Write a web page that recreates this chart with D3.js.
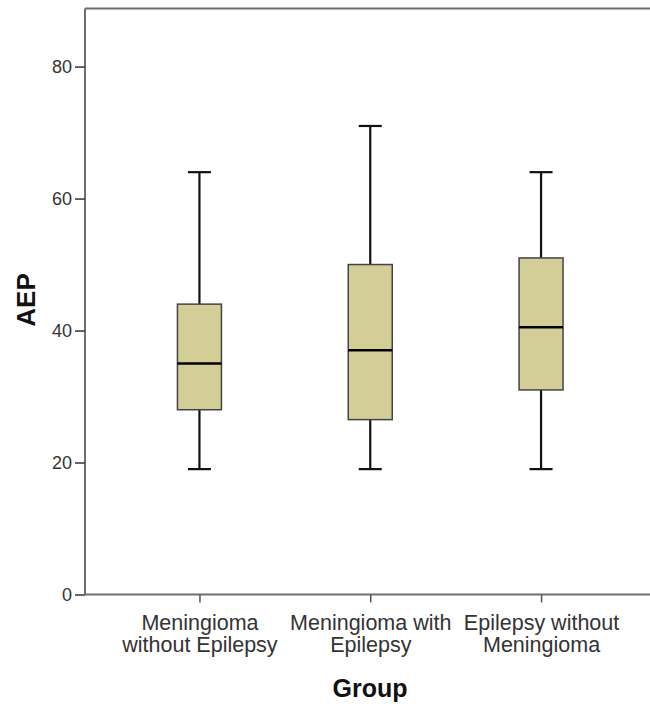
<!DOCTYPE html>
<html>
<head>
<meta charset="utf-8">
<script src="https://cdn.jsdelivr.net/npm/d3@7"></script>
<style>
  body { margin: 0; background: #fff; }
  text { font-family: "Liberation Sans", Arial, sans-serif; }
</style>
</head>
<body>
<div id="chart"></div>
<script>
  // Box plot values
  var groups = [
    ["Meningioma", "without Epilepsy"],
    ["Meningioma with", "Epilepsy"],
    ["Epilepsy without", "Meningioma"]
  ];
  var whiskerLow = [19, 19, 19];
  var q1 = [28, 26.5, 31];
  var median = [35, 37, 40.5];
  var q3 = [44, 50, 51];
  var whiskerHigh = [64, 71, 64];
  var yTicks = [0, 20, 40, 60, 80];

  var width = 650, height = 704;
  var margin = { top: 8.5, left: 85, bottom: 594.5 };

  var boxes = groups.map((g, i) => ({
    key: i,
    label: g,
    lo: whiskerLow[i],
    q1: q1[i],
    med: median[i],
    q3: q3[i],
    hi: whiskerHigh[i]
  }));

  var svg = d3.select("#chart").append("svg")
    .attr("width", width)
    .attr("height", height);

  var x = d3.scalePoint()
    .domain(boxes.map(d => d.key))
    .range([margin.left, 655.5])
    .padding(0.67);

  var y = d3.scaleLinear()
    .domain([0, 88.8])
    .range([margin.bottom, margin.top]);

  var boxW = 44, capW = 23;

  // frame: top line
  svg.append("line")
    .attr("x1", margin.left).attr("x2", width)
    .attr("y1", margin.top).attr("y2", margin.top)
    .attr("stroke", "#6e6e6e")
    .attr("stroke-width", 2);

  // y axis
  var yAxis = d3.axisLeft(y)
    .tickValues(yTicks)
    .tickSize(10)
    .tickPadding(3);

  var yg = svg.append("g")
    .attr("transform", "translate(" + margin.left + ",0)")
    .call(yAxis);
  yg.select(".domain").attr("stroke", "#6e6e6e").attr("stroke-width", 2)
    .attr("d", "M0," + margin.top + "V" + margin.bottom);
  yg.selectAll(".tick line").attr("stroke", "#333").attr("stroke-width", 1.5);
  yg.selectAll(".tick text")
    .attr("font-size", "18px")
    .attr("fill", "#333")
    .attr("font-family", "Liberation Sans, Arial, sans-serif");

  // x axis
  var xAxis = d3.axisBottom(x)
    .tickSize(8)
    .tickFormat("");

  var xg = svg.append("g")
    .attr("transform", "translate(0," + margin.bottom + ")")
    .call(xAxis);
  xg.select(".domain").attr("stroke", "#6e6e6e").attr("stroke-width", 2)
    .attr("d", "M" + margin.left + ",0H" + width);
  xg.selectAll(".tick line").attr("stroke", "#555").attr("stroke-width", 1.5);

  // two-line category labels
  xg.selectAll(".tick").each(function(d) {
    var t = d3.select(this).append("text")
      .attr("fill", "#333")
      .attr("font-size", "21.5px")
      .attr("text-anchor", "middle")
      .attr("font-family", "Liberation Sans, Arial, sans-serif");
    boxes[d].label.forEach((line, j) => {
      t.append("tspan")
        .attr("x", 0)
        .attr("y", 35 + j * 22)
        .text(line);
    });
  });

  // axis titles
  svg.append("text")
    .attr("x", 370)
    .attr("y", 697)
    .attr("text-anchor", "middle")
    .attr("font-size", "25px")
    .attr("font-weight", "bold")
    .attr("fill", "#111")
    .text("Group");

  svg.append("text")
    .attr("transform", "translate(35,300) rotate(-90)")
    .attr("text-anchor", "middle")
    .attr("font-size", "26px")
    .attr("font-weight", "bold")
    .attr("fill", "#111")
    .text("AEP");

  // boxes
  var g = svg.selectAll(".box")
    .data(boxes)
    .enter().append("g")
    .attr("class", "box")
    .attr("transform", d => "translate(" + x(d.key) + ",0)");

  // whiskers
  g.append("line")
    .attr("x1", 0).attr("x2", 0)
    .attr("y1", d => y(d.hi)).attr("y2", d => y(d.q3))
    .attr("stroke", "#111").attr("stroke-width", 2.2);
  g.append("line")
    .attr("x1", 0).attr("x2", 0)
    .attr("y1", d => y(d.q1)).attr("y2", d => y(d.lo))
    .attr("stroke", "#111").attr("stroke-width", 2.2);

  // caps
  g.append("line")
    .attr("x1", -capW / 2).attr("x2", capW / 2)
    .attr("y1", d => y(d.hi)).attr("y2", d => y(d.hi))
    .attr("stroke", "#111").attr("stroke-width", 2.2);
  g.append("line")
    .attr("x1", -capW / 2).attr("x2", capW / 2)
    .attr("y1", d => y(d.lo)).attr("y2", d => y(d.lo))
    .attr("stroke", "#111").attr("stroke-width", 2.2);

  g.append("rect")
    .attr("x", -boxW / 2)
    .attr("width", boxW)
    .attr("y", d => y(d.q3))
    .attr("height", d => y(d.q1) - y(d.q3))
    .attr("fill", "#d3ce98")
    .attr("stroke", "#444")
    .attr("stroke-width", 1.5);

  // medians
  g.append("line")
    .attr("x1", -boxW / 2).attr("x2", boxW / 2)
    .attr("y1", d => y(d.med)).attr("y2", d => y(d.med))
    .attr("stroke", "#000").attr("stroke-width", 2.5);
</script>
</body>
</html>
